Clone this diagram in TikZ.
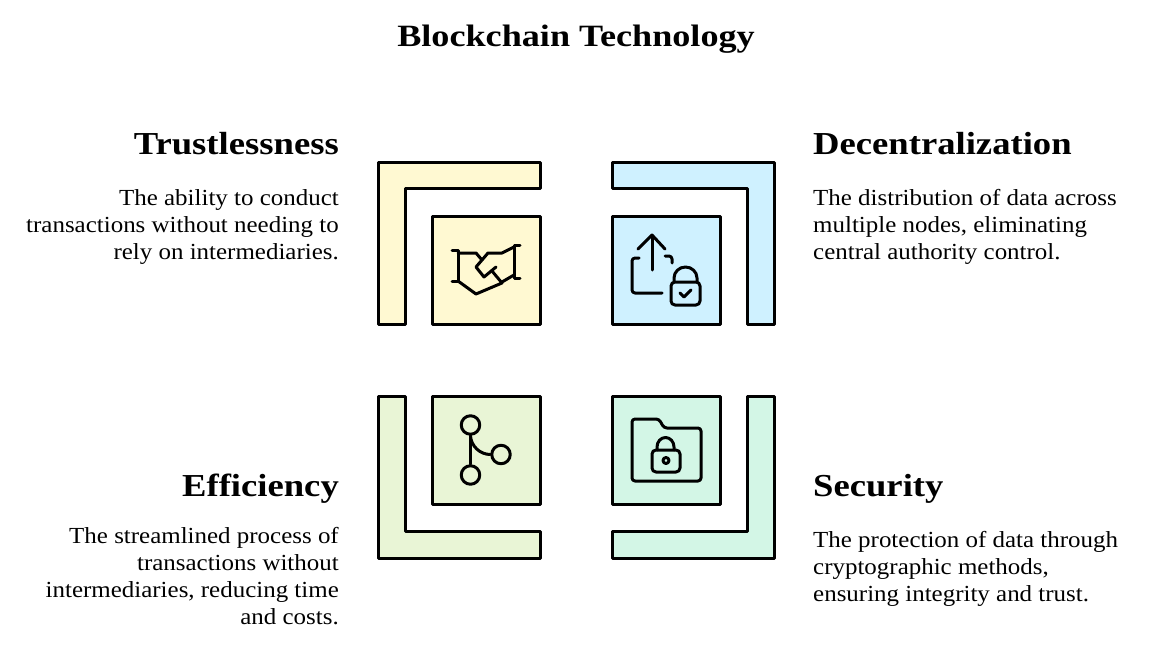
\documentclass[tikz,border=0pt]{standalone}
\usepackage{fontspec}
\setmainfont{Liberation Serif}
\newfontfamily\chainTitleFont[FakeStretch=1.167]{Liberation Serif}
\newfontfamily\chainHeadFont[FakeStretch=1.145]{Liberation Serif}
\newfontfamily\chainBodyFont[FakeStretch=1.085]{Liberation Serif}
\providecommand{\chainLineColor}{black}
\providecommand{\chainLineWidth}{3pt}
\providecommand{\chainIconWidth}{3pt}
\definecolor{chainYellow}{HTML}{FFF9D2}
\definecolor{chainBlue}{HTML}{CFF1FF}
\definecolor{chainGreen}{HTML}{E9F5D6}
\definecolor{chainMint}{HTML}{D3F6E6}
\tikzset{
  panel/.style={draw=\chainLineColor, line width=\chainLineWidth, line join=round},
  icon/.style={draw=\chainLineColor, line width=\chainIconWidth, line cap=round, line join=round},
  titletext/.style={font=\chainTitleFont\fontsize{31}{36}\selectfont\bfseries, inner sep=0pt},
  headtext/.style={font=\chainHeadFont\fontsize{32}{36}\selectfont\bfseries, inner sep=0pt},
  bodytext/.style={font=\chainBodyFont\fontsize{23}{27}\selectfont, inner sep=0pt}
}
\begin{document}
\begin{tikzpicture}
\def\pxsz{1pt}
\begin{scope}[x=\pxsz, y=-\pxsz]
  \useasboundingbox (0,0) rectangle (1152,648);
  % Background
  \fill[white] (0,0) rectangle (1152,648);
  % Title
  \node[titletext, anchor=base] (title) at (576,46) {Blockchain Technology};
  % Left texts
  \node[headtext, anchor=base east] (trustHead) at (339,154) {Trustlessness};
  \node[bodytext, anchor=north east, align=right] (trustBody) at (339,189) {The ability to conduct\\transactions without needing to\\rely on intermediaries.};
  \node[headtext, anchor=base east] (effHead) at (339,496) {Efficiency};
  \node[bodytext, anchor=north east, align=right] (effBody) at (339,527) {The streamlined process of\\transactions without\\intermediaries, reducing time\\and costs.};
  % Right texts
  \node[headtext, anchor=base west] (decHead) at (813,154) {Decentralization};
  \node[bodytext, anchor=north west, align=left] (decBody) at (813,189) {The distribution of data across\\multiple nodes, eliminating\\central authority control.};
  \node[headtext, anchor=base west] (secHead) at (813,496) {Security};
  \node[bodytext, anchor=north west, align=left] (secBody) at (813,531) {The protection of data through\\cryptographic methods,\\ensuring integrity and trust.};
  % Corner frames and squares
  \begin{scope}[fill=chainYellow]
    \path[panel, fill] (378,324) -- (378,162) -- (540,162) -- (540,188) -- (405,188) -- (405,324) -- cycle;
    \path[panel, fill] (432,216) rectangle (540,324);
  \end{scope}
  \begin{scope}[fill=chainBlue]
    \path[panel, fill] (774,324) -- (774,162) -- (612,162) -- (612,188) -- (747,188) -- (747,324) -- cycle;
    \path[panel, fill] (612,216) rectangle (720,324);
  \end{scope}
  \begin{scope}[fill=chainGreen]
    \path[panel, fill] (378,396) -- (378,558) -- (540,558) -- (540,531) -- (405,531) -- (405,396) -- cycle;
    \path[panel, fill] (432,396) rectangle (540,504);
  \end{scope}
  \begin{scope}[fill=chainMint]
    \path[panel, fill] (774,396) -- (774,558) -- (612,558) -- (612,531) -- (747,531) -- (747,396) -- cycle;
    \path[panel, fill] (612,396) rectangle (720,504);
  \end{scope}
  % Handshake icon
  \begin{scope}[icon]
    \draw (452,250) -- (458,250) -- (458,281) -- (452,281);
    \draw (520,245) -- (514,245) -- (514,278) -- (520,278);
    \draw (458,253) -- (476,253) -- (482,260);
    \draw (458,281) -- (476,294) -- (502,283) -- (492,271);
    \draw (514,247) -- (502,253) -- (488,253) -- (476,267) -- (484,277) -- (496,267);
    \draw (502,282) -- (514,275);
  \end{scope}
  % Upload and lock icon
  \begin{scope}[icon]
    \draw (652,236) -- (652,270);
    \draw (638,249) -- (652,235) -- (665,249);
    \draw[rounded corners=3pt] (639,258) -- (632,258) -- (632,293) -- (662,293);
    \draw[rounded corners=3pt] (665,256) -- (672,256) -- (672,263);
    \draw[rounded corners=4pt] (671,282) rectangle (700,305);
    \draw (674,282) -- (674,278) arc[start angle=180, end angle=360, x radius=11.5, y radius=11] -- (697,282);
    \draw (680,293) -- (684,297) -- (691,290);
  \end{scope}
  % Branch icon
  \begin{scope}[icon]
    \node[icon, circle, minimum size=18.5pt, inner sep=0pt] (topDot) at (470.5,425) {};
    \node[icon, circle, minimum size=18.5pt, inner sep=0pt] (lowDot) at (470.5,475) {};
    \node[icon, circle, minimum size=18.5pt, inner sep=0pt] (sideDot) at (501,454.5) {};
    \draw (topDot) -- (lowDot);
    \draw (topDot.south) .. controls (471,446) and (480,454.5) .. (sideDot.west);
  \end{scope}
  % Folder and lock icon
  \begin{scope}[icon]
    \draw[rounded corners=3pt] (632,419) -- (659,419) -- (664,428) -- (701,428) -- (701,481) -- (632,481) -- cycle;
    \draw[rounded corners=4pt] (652,450) rectangle (680,472);
    \draw (657,450) -- (657,447) arc[start angle=180, end angle=360, x radius=8.5, y radius=9.5] -- (674,450);
    \draw (666,460.5) circle[radius=3];
  \end{scope}
\end{scope}
\end{tikzpicture}
\end{document}
